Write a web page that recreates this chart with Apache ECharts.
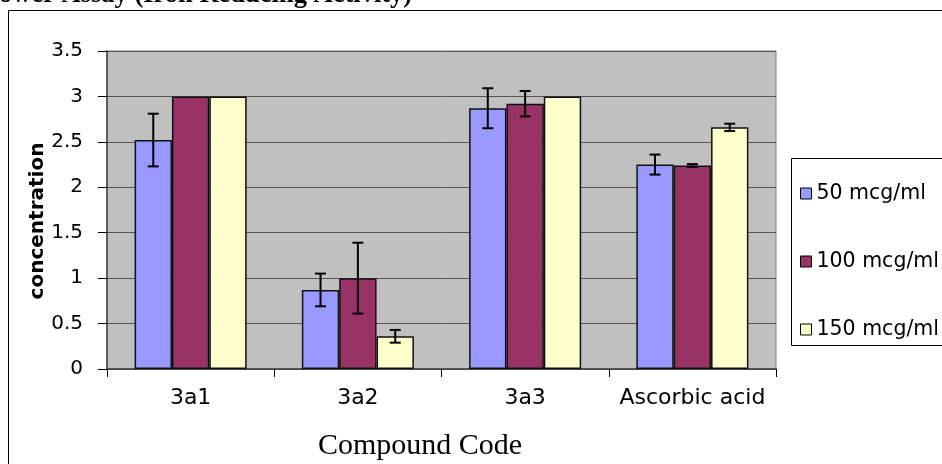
<!DOCTYPE html>
<html>
<head>
<meta charset="utf-8">
<script src="https://cdn.jsdelivr.net/npm/echarts@6/dist/echarts.min.js"></script>
<style>
  html, body { margin: 0; padding: 0; background: #fff; }
  #chart { width: 942px; height: 464px; }
</style>
</head>
<body>
<div id="chart"></div>
<script>
var categories = ['3a1', '3a2', '3a3', 'Ascorbic acid'];
var seriesNames = ['50 mcg/ml', '100 mcg/ml', '150 mcg/ml'];
var conc50 = [2.52, 0.87, 2.87, 2.25];
var conc100 = [3.0, 1.0, 2.92, 2.24];
var conc150 = [3.0, 0.36, 3.0, 2.66];
var err50 = [0.29, 0.18, 0.22, 0.11];
var err100 = [0, 0.39, 0.14, 0.015];
var err150 = [0, 0.07, 0, 0.04];

var colors = ['#9999FF', '#993366', '#FFFFCC'];
var values = [conc50, conc100, conc150];
var errors = [err50, err100, err150];
var catGap = 0.33;

// error bar data: [category index, low, high, series index]
var errData = [];
for (var s = 0; s < values.length; s++) {
    for (var i = 0; i < categories.length; i++) {
        if (errors[s][i] > 0) {
            errData.push([i, values[s][i] - errors[s][i], values[s][i] + errors[s][i], s]);
        }
    }
}

var myChart = echarts.init(document.getElementById('chart'));

var barSeries = values.map(function (v, s) {
    return {
        name: seriesNames[s],
        type: 'bar',
        data: v,
        barGap: '0%',
        barCategoryGap: (catGap * 100) + '%',
        itemStyle: {
            color: colors[s],
            borderColor: '#111',
            borderWidth: 1.5
        }
    };
});

barSeries.push({
    type: 'custom',
    z: 10,
    silent: true,
    encode: { x: 0, y: [1, 2] },
    data: errData,
    renderItem: function (params, api) {
        var ci = api.value(0);
        var band = api.size([1, 0])[0];
        var bw = band * (1 - catGap) / 3;
        var x = api.coord([ci, 0])[0] + (api.value(3) - 1) * bw;
        var yLo = api.coord([ci, api.value(1)])[1];
        var yHi = api.coord([ci, api.value(2)])[1];
        var cap = 5.5;
        var st = { stroke: '#000', lineWidth: 2 };
        return {
            type: 'group',
            children: [
                { type: 'line', shape: { x1: x, y1: yHi, x2: x, y2: yLo }, style: st },
                { type: 'line', shape: { x1: x - cap, y1: yHi, x2: x + cap, y2: yHi }, style: st },
                { type: 'line', shape: { x1: x - cap, y1: yLo, x2: x + cap, y2: yLo }, style: st }
            ]
        };
    }
});

var option = {
    animation: false,
    grid: {
        left: 107,
        right: 166,
        top: 51,
        bottom: 95,
        show: true,
        backgroundColor: '#C0C0C0',
        borderColor: '#808080',
        borderWidth: 1
    },
    legend: {
        data: seriesNames,
        orient: 'vertical',
        left: 800,
        top: 183,
        padding: 0,
        itemGap: 47,
        itemWidth: 11,
        itemHeight: 11,
        icon: 'rect',
        itemStyle: { borderColor: '#000', borderWidth: 1 },
        textStyle: {
            fontFamily: 'DejaVu Sans',
            fontSize: 20.5,
            lineHeight: 21,
            color: '#000'
        }
    },
    xAxis: {
        type: 'category',
        data: categories,
        axisLine: { lineStyle: { color: '#404040', width: 1.5 } },
        axisTick: { show: true, length: 8, lineStyle: { color: '#000' } },
        axisLabel: {
            interval: 0,
            margin: 18,
            fontFamily: 'DejaVu Sans',
            fontSize: 22,
            color: '#000'
        }
    },
    yAxis: {
        type: 'value',
        min: 0,
        max: 3.5,
        interval: 0.5,
        axisLine: { show: true, lineStyle: { color: '#404040', width: 1.5 } },
        axisTick: { show: true, length: 9, lineStyle: { color: '#000' } },
        axisLabel: {
            margin: 24,
            fontFamily: 'DejaVu Sans',
            fontSize: 20,
            color: '#000'
        },
        splitLine: { lineStyle: { color: '#555', width: 1 } }
    },
    graphic: [
        {
            type: 'rect',
            shape: { x: 8.5, y: 10.5, width: 1000, height: 1000 },
            style: { fill: null, stroke: '#000', lineWidth: 1 },
            silent: true
        },
        {
            type: 'rect',
            shape: { x: 791.5, y: 158.5, width: 300, height: 187 },
            style: { fill: '#fff', stroke: '#000', lineWidth: 1 },
            silent: true,
            z: -1
        },
        {
            type: 'text',
            x: -1,
            y: 9,
            style: {
                text: 'ower Assay (Iron Reducing Activity)',
                font: 'bold 26.5px "Liberation Serif"',
                fill: '#000',
                verticalAlign: 'bottom'
            }
        },
        {
            type: 'text',
            x: 38,
            y: 221,
            rotation: Math.PI / 2,
            style: {
                text: 'concentration',
                font: 'bold 20px "DejaVu Sans"',
                fill: '#000',
                align: 'center',
                verticalAlign: 'middle'
            }
        },
        {
            type: 'text',
            x: 420,
            y: 446,
            style: {
                text: 'Compound Code',
                font: '30px "Liberation Serif"',
                fill: '#000',
                align: 'center',
                verticalAlign: 'middle'
            }
        }
    ],
    series: barSeries
};

myChart.setOption(option);
</script>
</body>
</html>
